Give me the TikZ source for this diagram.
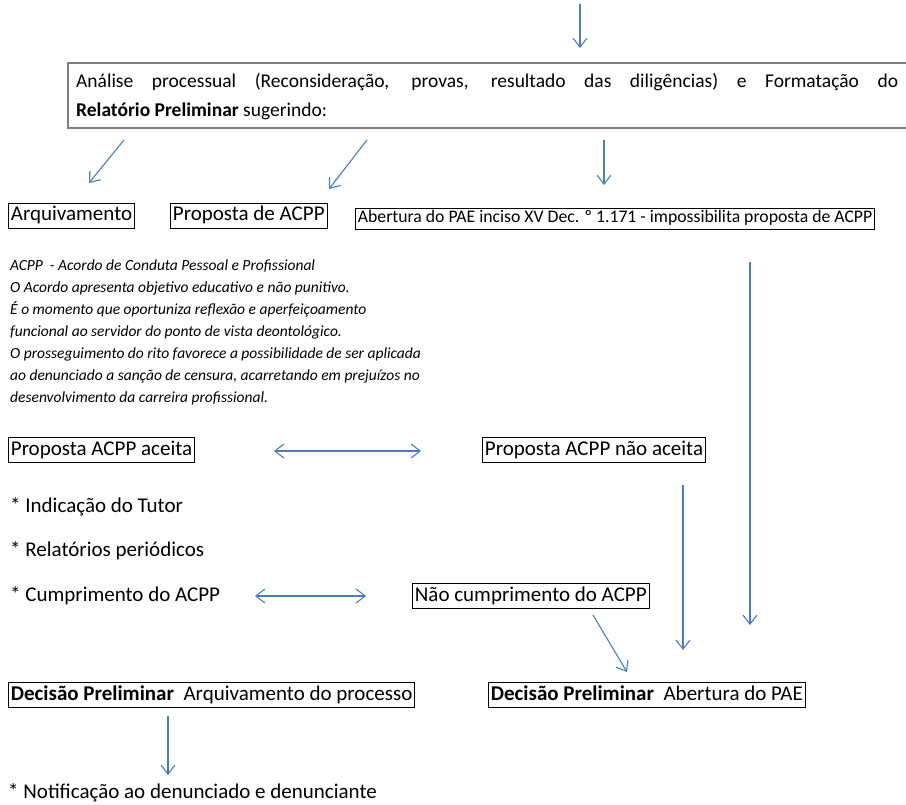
\documentclass[tikz,border=0pt]{standalone}
\usepackage{fontspec}
\setmainfont{Carlito}
\usetikzlibrary{arrows.meta}
\definecolor{arrowblue}{RGB}{74,126,187}
\definecolor{topgray}{RGB}{128,128,128}
\begin{document}
\begin{tikzpicture}[x=1pt,y=-1pt,
  arr/.style={draw=arrowblue, line width=1.1pt, -{Straight Barb[length=9pt,width=14pt]}},
  darr/.style={draw=arrowblue, line width=1.1pt, {Straight Barb[length=9pt,width=14pt]}-{Straight Barb[length=9pt,width=14pt]}},
  box/.style={draw=black, line width=0.8pt, inner xsep=2.5pt, inner ysep=3pt, text height=14.5pt, text depth=4.5pt, font=\fontsize{21}{24}\selectfont, anchor=west},
  smallbox/.style={draw=black, line width=0.8pt, inner xsep=2.5pt, inner ysep=2.5pt, text height=12pt, text depth=4pt, font=\fontsize{17.7}{21}\selectfont, anchor=west},
  plain/.style={inner sep=0pt, font=\fontsize{21}{24}\selectfont, anchor=west},
  note/.style={inner sep=0pt, anchor=north west, align=left, font=\fontsize{15.5}{22}\selectfont\itshape},
]
\useasboundingbox (0,0) rectangle (906,805);

% top box
\node[anchor=north west, inner xsep=8pt, inner ysep=0pt, text width=822pt, align=justify, font=\fontsize{19.5}{29}\selectfont] (top) at (68,73)
  {Análise processual (Reconsideração, provas, resultado das diligências) e Formatação do\linebreak \textbf{Relatório Preliminar} sugerindo:};
\draw[topgray, line width=2.5pt] ([xshift=20pt]top.north east |- 0,63) -- (top.north west |- 0,63) -- (top.south west |- 0,128) -- ([xshift=20pt]top.south east |- 0,128);

% second row
\node[box] (arq) at (8,215.5) {Arquivamento};
\node[box] (prop) at (170,215.5) {Proposta de ACPP};
\node[smallbox] (abert) at (355,219) {Abertura do PAE inciso XV Dec. º 1.171 - impossibilita proposta de ACPP};

% note
\node[note] (nota) at (10,260) {ACPP\ \ - Acordo de Conduta Pessoal e Profissional\\
O Acordo apresenta objetivo educativo e não punitivo.\\
É o momento que oportuniza reflexão e aperfeiçoamento\\
funcional ao servidor do ponto de vista deontológico.\\
O prosseguimento do rito favorece a possibilidade de ser aplicada\\
ao denunciado a sanção de censura, acarretando em prejuízos no\\
desenvolvimento da carreira profissional.};

% third row
\node[box] (aceita) at (8,450) {Proposta ACPP aceita};
\node[box] (naceita) at (482,450) {Proposta ACPP não aceita};

\node[plain] (tutor) at (10,507) {* Indicação do Tutor};
\node[plain] (relat) at (10,551) {* Relatórios periódicos};
\node[plain] (cumpr) at (10,596) {* Cumprimento do ACPP};
\node[box] (ncumpr) at (412,596) {Não cumprimento do ACPP};

\node[box] (dec1) at (8,695) {\textbf{Decisão Preliminar}\ \ Arquivamento do processo};
\node[box] (dec2) at (488,695) {\textbf{Decisão Preliminar}\ \ Abertura do PAE};

\node[plain] (notif) at (8,793) {* Notificação ao denunciado e denunciante};

% arrow end points
\coordinate (a0s) at (580,4);   \coordinate (a0e) at (580,48);
\coordinate (a1s) at (124,140); \coordinate (a1e) at (89,183);
\coordinate (a2s) at (367,140); \coordinate (a2e) at (329,189);
\coordinate (a3s) at (604,140); \coordinate (a3e) at (604,185);
\coordinate (a4s) at (750,262); \coordinate (a4e) at (750,625);
\coordinate (a5s) at (274,451); \coordinate (a5e) at (421,451);
\coordinate (a6s) at (683,485); \coordinate (a6e) at (683,650);
\coordinate (a7s) at (255,596); \coordinate (a7e) at (366,596);
\coordinate (a8s) at (593,615); \coordinate (a8e) at (627,672);
\coordinate (a9s) at (168,716); \coordinate (a9e) at (168,775);

\draw[arr] (a0s) -- (a0e);
\draw[arr] (a1s) -- (a1e);
\draw[arr] (a2s) -- (a2e);
\draw[arr] (a3s) -- (a3e);
\draw[arr] (a4s) -- (a4e);
\draw[darr] (a5s) -- (a5e);
\draw[arr] (a6s) -- (a6e);
\draw[darr] (a7s) -- (a7e);
\draw[arr] (a8s) -- (a8e);
\draw[arr] (a9s) -- (a9e);
\end{tikzpicture}
\end{document}
